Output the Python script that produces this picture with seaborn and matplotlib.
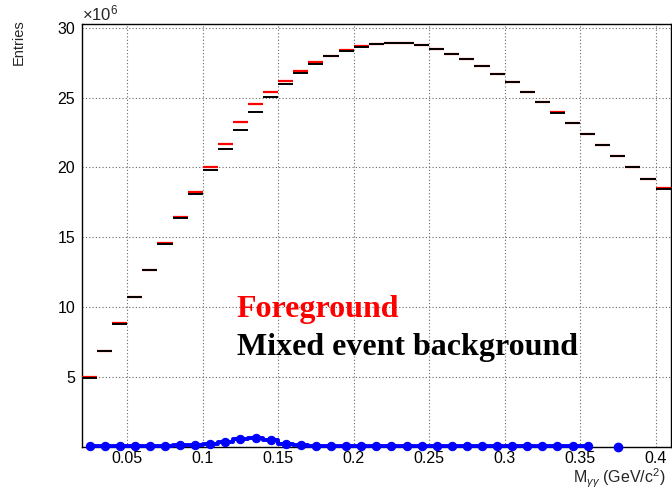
import numpy as np
import pandas as pd
import matplotlib.pyplot as plt
import seaborn as sns
from matplotlib.ticker import MultipleLocator, FuncFormatter

# Histogram binning (GeV/c^2)
bin_lo = 0.02
bin_width = 0.01

# Entries per bin, in units of 10^6, bins 0.02 - 0.41
foreground = [4.99, 6.89, 8.86, 10.76, 12.67, 14.58, 16.42, 18.24, 20.03, 21.67,
              23.24, 24.57, 25.43, 26.17, 26.89, 27.53, 28.00, 28.40, 28.68, 28.81,
              28.88, 28.88, 28.74, 28.48, 28.14, 27.74, 27.29, 26.69, 26.10, 25.43,
              24.69, 23.97, 23.17, 22.39, 21.60, 20.81, 20.00, 19.19, 18.50]
background = [4.95, 6.84, 8.80, 10.72, 12.63, 14.52, 16.35, 18.10, 19.81, 21.34,
              22.71, 23.96, 25.03, 25.96, 26.74, 27.41, 27.95, 28.33, 28.62, 28.81,
              28.88, 28.88, 28.74, 28.48, 28.14, 27.74, 27.29, 26.69, 26.10, 25.43,
              24.69, 23.93, 23.17, 22.39, 21.60, 20.81, 20.00, 19.19, 18.46]

# Foreground - background (10^6), shown up to 0.36 plus one isolated bin
diff_x = [0.025, 0.035, 0.045, 0.055, 0.065, 0.075, 0.085, 0.095, 0.105, 0.115,
          0.125, 0.135, 0.145, 0.155, 0.165, 0.175, 0.185, 0.195, 0.205, 0.215,
          0.225, 0.235, 0.245, 0.255, 0.265, 0.275, 0.285, 0.295, 0.305, 0.315,
          0.325, 0.335, 0.345, 0.355]
diff_y = [0.03, 0.04, 0.05, 0.04, 0.04, 0.08, 0.10, 0.14, 0.20, 0.35,
          0.58, 0.66, 0.47, 0.22, 0.12, 0.08, 0.06, 0.05, 0.04, 0.03,
          0.03, 0.03, 0.03, 0.03, 0.03, 0.03, 0.03, 0.03, 0.03, 0.03,
          0.03, 0.03, 0.03, 0.03]
lone_x = [0.375]
lone_y = [0.0]

edges = bin_lo + bin_width * np.arange(len(background) + 1)
df = pd.DataFrame({'lo': edges[:-1], 'hi': edges[1:],
                   'fg': foreground, 'bg': background})
diff_df = pd.DataFrame({'x': diff_x, 'y': diff_y})

sns.set_style("white")
plt.rcParams['font.family'] = ['Liberation Sans', 'DejaVu Sans']
plt.rcParams['mathtext.fontset'] = 'custom'
plt.rcParams['mathtext.rm'] = 'Liberation Sans'
plt.rcParams['mathtext.it'] = 'Liberation Sans:italic'

fig = plt.figure(figsize=(6.72, 4.90), dpi=100)
ax = fig.add_axes([0.122, 0.088, 0.876, 0.864])

# the two histograms as horizontal bin markers
ax.hlines(df['fg'], df['lo'], df['hi'], color='red', lw=1.6, zorder=3)
ax.hlines(df['bg'], df['lo'], df['hi'], color='black', lw=1.4, zorder=4)

# difference
sns.lineplot(data=diff_df, x='x', y='y', ax=ax, color='blue', lw=2.8,
             marker='o', markersize=6, markeredgecolor='blue',
             drawstyle='steps-mid', clip_on=False, zorder=6)
ax.plot(lone_x, lone_y, 'o', color='blue', markersize=6, clip_on=False, zorder=6)

ax.set_xlim(0.02, 0.41)
ax.set_ylim(0, 30.3)
ax.set_xlabel('')
ax.set_ylabel('')

ax.xaxis.set_major_locator(MultipleLocator(0.05))
ax.xaxis.set_minor_locator(MultipleLocator(0.01))
ax.yaxis.set_major_locator(MultipleLocator(5))
ax.yaxis.set_minor_locator(MultipleLocator(1))
ax.xaxis.set_major_formatter(FuncFormatter(lambda v, p: '%g' % round(v, 3)))
ax.yaxis.set_major_formatter(FuncFormatter(lambda v, p: '' if v == 0 else '%d' % v))

ax.tick_params(axis='both', which='both', direction='in', colors='black',
               labelsize=11.5, top=False, right=False)
ax.tick_params(axis='y', which='major', length=12, width=1, pad=5)
ax.tick_params(axis='y', which='minor', length=6.5, width=1)
ax.tick_params(axis='x', which='major', length=8.5, width=1, pad=3)
ax.tick_params(axis='x', which='minor', length=4.5, width=1)

ax.grid(True, which='major', color='#666666', linestyle=(0, (1, 2)), lw=0.8)
for s in ax.spines.values():
    s.set_color('black')
    s.set_linewidth(1.0)

ax.text(0.1225, 9.33, 'Foreground', color='red', fontsize=23, fontweight='bold',
        family='Liberation Serif', va='baseline')
ax.text(0.1225, 6.56, 'Mixed event background', color='black', fontsize=23,
        fontweight='bold', family='Liberation Serif', va='baseline')

fig.text(0.122, 0.958, r'$\times10^{6}$', fontsize=12, ha='left', va='baseline')
fig.text(0.028, 0.96, 'Entries', rotation=90, fontsize=10.5, ha='center', va='top')
fig.text(0.99, 0.0, r'M$_{\gamma\gamma}$ (GeV/c$^{2}$)', fontsize=11.5,
         ha='right', va='bottom')

fig.savefig('out.png', dpi=100)
